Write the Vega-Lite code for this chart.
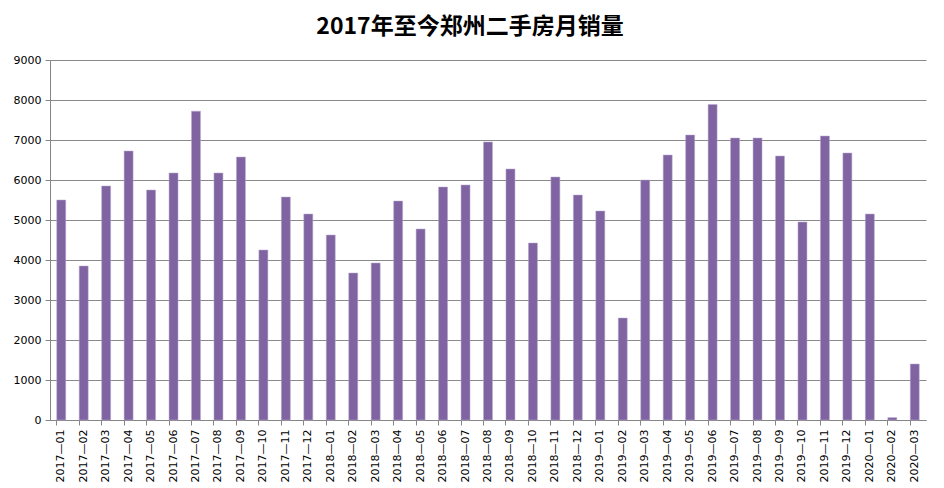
{
  "$schema": "https://vega.github.io/schema/vega-lite/v6.json",
  "width": 876,
  "height": 360,
  "autosize": "none",
  "padding": {"left": 50, "top": 60, "right": 18, "bottom": 68},
  "background": "#ffffff",
  "title": {
    "text": "2017年至今郑州二手房月销量",
    "font": "Noto Sans CJK SC",
    "fontSize": 23,
    "fontWeight": "bold",
    "color": "#000000",
    "anchor": "middle",
    "dx": -18,
    "offset": 15
  },
  "data": {
    "values": [
      {"month": "2017—01", "sales": 5500},
      {"month": "2017—02", "sales": 3850},
      {"month": "2017—03", "sales": 5850},
      {"month": "2017—04", "sales": 6725},
      {"month": "2017—05", "sales": 5750},
      {"month": "2017—06", "sales": 6175},
      {"month": "2017—07", "sales": 7720},
      {"month": "2017—08", "sales": 6175},
      {"month": "2017—09", "sales": 6575},
      {"month": "2017—10", "sales": 4250},
      {"month": "2017—11", "sales": 5575},
      {"month": "2017—12", "sales": 5150},
      {"month": "2018—01", "sales": 4625},
      {"month": "2018—02", "sales": 3675},
      {"month": "2018—03", "sales": 3925},
      {"month": "2018—04", "sales": 5475},
      {"month": "2018—05", "sales": 4775},
      {"month": "2018—06", "sales": 5825},
      {"month": "2018—07", "sales": 5875},
      {"month": "2018—08", "sales": 6950},
      {"month": "2018—09", "sales": 6275},
      {"month": "2018—10", "sales": 4425},
      {"month": "2018—11", "sales": 6075},
      {"month": "2018—12", "sales": 5625},
      {"month": "2019—01", "sales": 5225},
      {"month": "2019—02", "sales": 2550},
      {"month": "2019—03", "sales": 6000},
      {"month": "2019—04", "sales": 6625},
      {"month": "2019—05", "sales": 7125},
      {"month": "2019—06", "sales": 7890},
      {"month": "2019—07", "sales": 7050},
      {"month": "2019—08", "sales": 7050},
      {"month": "2019—09", "sales": 6600},
      {"month": "2019—10", "sales": 4950},
      {"month": "2019—11", "sales": 7100},
      {"month": "2019—12", "sales": 6675},
      {"month": "2020—01", "sales": 5150},
      {"month": "2020—02", "sales": 60},
      {"month": "2020—03", "sales": 1400}
    ]
  },
  "mark": {"type": "bar", "color": "#8064A2", "stroke": "#b9a8cf", "strokeWidth": 0.5},
  "encoding": {
    "x": {
      "field": "month",
      "type": "nominal",
      "sort": null,
      "scale": {"paddingInner": 0.6, "paddingOuter": 0.3},
      "axis": {
        "title": null,
        "labelAngle": -90,
        "labelFont": "DejaVu Sans",
        "labelFontSize": 11,
        "labelColor": "#000000",
        "labelPadding": 4,
        "bandPosition": 0,
        "tickSize": 5,
        "tickColor": "#868686",
        "domainColor": "#868686",
        "grid": false
      }
    },
    "y": {
      "field": "sales",
      "type": "quantitative",
      "scale": {"domain": [0, 9000], "nice": false},
      "axis": {
        "title": null,
        "values": [0, 1000, 2000, 3000, 4000, 5000, 6000, 7000, 8000, 9000],
        "format": "d",
        "labelFont": "DejaVu Sans",
        "labelFontSize": 11,
        "labelColor": "#000000",
        "labelPadding": 4,
        "tickSize": 5,
        "tickColor": "#868686",
        "domainColor": "#868686",
        "gridColor": "#8a8a8a",
        "grid": true
      }
    }
  },
  "config": {
    "view": {"stroke": null},
    "axis": {"labelFlush": false, "labelOverlap": false}
  }
}
